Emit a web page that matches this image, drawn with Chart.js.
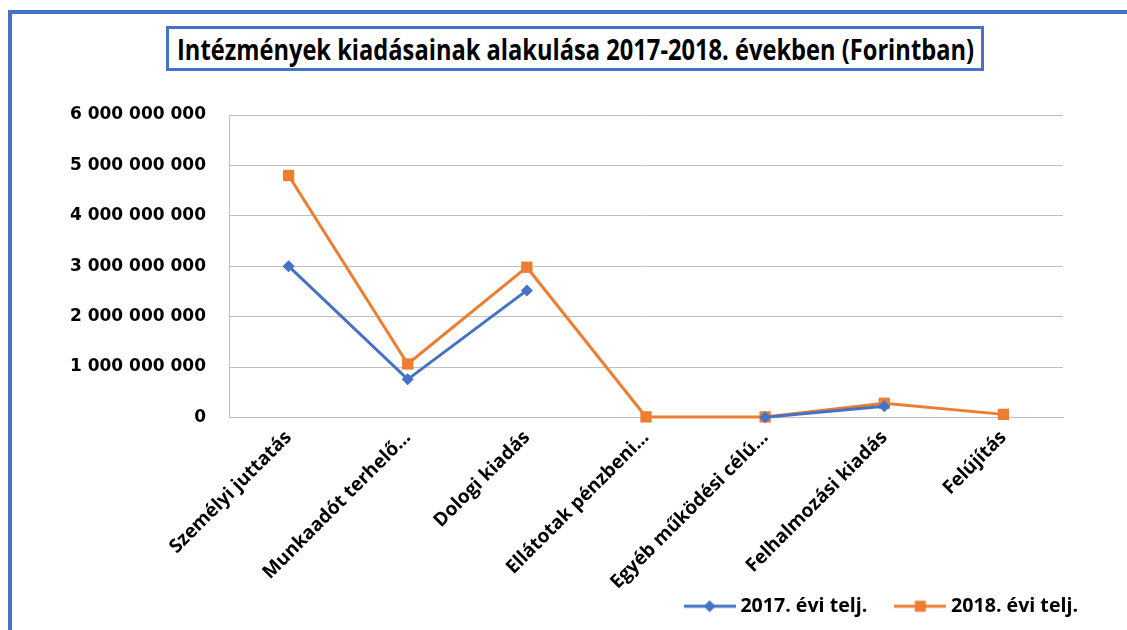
<!DOCTYPE html>
<html>
<head>
<meta charset="utf-8">
<script src="https://cdn.jsdelivr.net/npm/chart.js@4"></script>
<style>
  body { margin: 0; background: #fff; width: 1127px; height: 630px; overflow: hidden; position: relative; }
  #frame { position: absolute; left: 8px; top: 10px; width: 1130px; height: 640px;
    border-top: 4px solid #4472C4; border-left: 4px solid #4472C4; }
  #titleBox { position: absolute; left: 166px; top: 26px; width: 812px; height: 39px;
    border: 3px solid #4472C4; overflow: hidden; }
  #title { position: absolute; left: 8px; top: 0px; white-space: nowrap; transform-origin: 0 0;
    font: bold 29px "Open Sans"; color: #000; line-height: 39px; }
  #wrap { position: absolute; left: 14px; top: 80px; }
</style>
</head>
<body>
<div id="frame"></div>
<div id="titleBox"><span id="title">Intézmények kiadásainak alakulása 2017-2018. években (Forintban)</span></div>
<div id="wrap"><canvas id="lineChart" width="1113" height="550"></canvas></div>
<script>
// categories and values (Forint)
const categories = [
  "Személyi juttatás",
  "Munkaadót terhelő…",
  "Dologi kiadás",
  "Ellátotak pénzbeni…",
  "Egyéb működési célú…",
  "Felhalmozási kiadás",
  "Felújítás"
];
const seriesNames = ["2017. évi telj.", "2018. évi telj."];
const values2017 = [3000000000, 755000000, 2520000000, null, 5000000, 220000000, null];
const values2018 = [4800000000, 1060000000, 2980000000, 10000000, 10000000, 280000000, 60000000];
const yTicks = [0, 1000000000, 2000000000, 3000000000, 4000000000, 5000000000, 6000000000];

const blue = "#4472C4";
const orange = "#ED7D31";

// squeeze the title into its box like the original
const title = document.getElementById("title");
const tw = title.getBoundingClientRect().width;
title.style.transform = "scaleX(" + (797 / tw) + ")";

function legendIcon(color, style) {
  const c = document.createElement("canvas");
  c.width = 52; c.height = 14;
  const g = c.getContext("2d");
  g.strokeStyle = color; g.lineWidth = 3;
  g.beginPath(); g.moveTo(0, 7); g.lineTo(52, 7); g.stroke();
  g.fillStyle = color;
  g.beginPath();
  if (style === "diamond") {
    g.moveTo(26, 1); g.lineTo(32, 7); g.lineTo(26, 13); g.lineTo(20, 7);
  } else {
    g.rect(20.5, 1.5, 11, 11);
  }
  g.fill();
  return c;
}
const icons = [legendIcon(blue, "diamond"), legendIcon(orange, "square")];

function spaced(v) {
  return v.toString().replace(/\B(?=(\d{3})+(?!\d))/g, " ");
}

// rotated category labels run past the axis box down towards the legend
const unclipLabels = {
  id: "unclipLabels",
  afterLayout(chart) { chart.scales.x.bottom = chart.height; }
};

const ctx = document.getElementById("lineChart").getContext("2d");
const lineChart = new Chart(ctx, {
  type: "line",
  data: {
    labels: categories,
    datasets: [{
      label: seriesNames[0],
      data: values2017,
      borderColor: blue,
      backgroundColor: blue,
      borderWidth: 3,
      pointStyle: "rectRot",
      pointRadius: 6,
      pointBorderWidth: 0,
      tension: 0,
      clip: false
    }, {
      label: seriesNames[1],
      data: values2018,
      borderColor: orange,
      backgroundColor: orange,
      borderWidth: 3,
      pointStyle: "rect",
      pointRadius: 8,
      pointBorderWidth: 0,
      tension: 0,
      clip: false
    }]
  },
  plugins: [unclipLabels],
  options: {
    responsive: false,
    animation: false,
    layout: { padding: { left: 0, right: 17, top: 35, bottom: 4 } },
    plugins: {
      tooltip: { enabled: false },
      legend: {
        position: "bottom",
        align: "end",
        labels: {
          usePointStyle: true,
          pointStyleWidth: 42,
          padding: 32,
          color: "#000",
          font: { family: "Open Sans", weight: "bold", size: 19.6 },
          generateLabels: (chart) => chart.data.datasets.map((ds, i) => ({
            text: ds.label,
            pointStyle: icons[i],
            datasetIndex: i,
            hidden: false,
            lineWidth: 0,
            fontColor: "#000"
          }))
        }
      }
    },
    scales: {
      x: {
        offset: true,
        grid: { display: false, drawTicks: false },
        border: { display: true, color: "#bfbfbf", width: 1 },
        ticks: {
          autoSkip: false,
          maxRotation: 45,
          minRotation: 45,
          padding: 9,
          color: "#000",
          font: { family: "Open Sans", weight: "bold", size: 19 }
        },
        afterFit: (s) => { s.height = 147; }
      },
      y: {
        min: 0,
        max: 6000000000,
        afterBuildTicks: (s) => { s.ticks = yTicks.map(v => ({ value: v })); },
        grid: { color: "#bfbfbf", lineWidth: 1, drawTicks: false },
        border: { display: true, color: "#bfbfbf", width: 1 },
        ticks: {
          padding: 23,
          color: "#000",
          font: { family: "DejaVu Sans", weight: "bold", size: 17 },
          callback: (v) => spaced(v)
        },
        afterFit: (s) => { s.width = 215; }
      },
      padR: {
        type: "linear",
        position: "right",
        display: true,
        grid: { display: false, drawTicks: false },
        border: { display: false },
        ticks: { display: false },
        afterFit: (s) => { s.width = 47; }
      }
    }
  }
});
</script>
</body>
</html>
